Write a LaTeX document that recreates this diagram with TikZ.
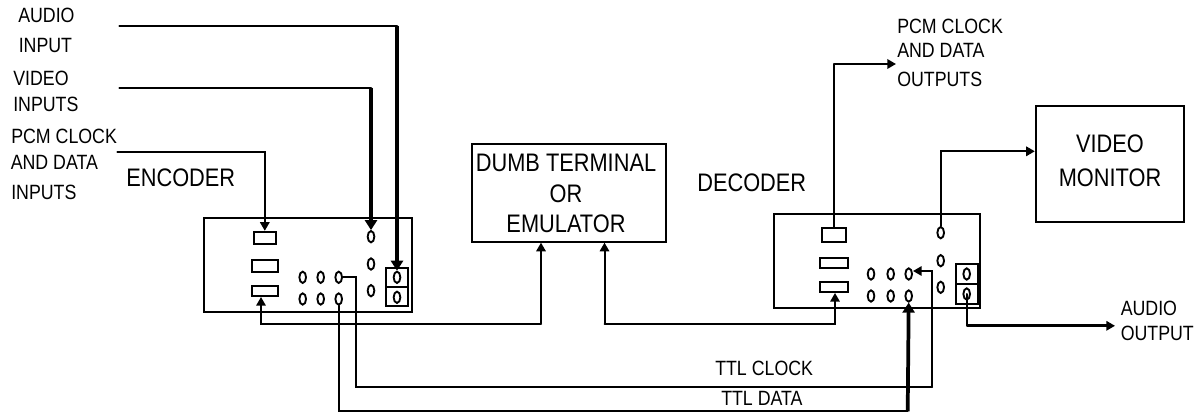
\documentclass[tikz,border=0pt]{standalone}
\usepackage{fontspec}
\setmainfont{Liberation Sans}[FakeStretch=0.86]
\usetikzlibrary{arrows.meta,shapes.geometric}
\tikzset{
  wire/.style={line width=1.5pt,line cap=round},
  heavy/.style={line width=2.8pt},
  tipped/.style={-{Triangle[length=6.5pt,width=7pt]}},
  bigtip/.style={-{Triangle[length=7.5pt,width=9pt]}},
  chassis/.style={draw,line width=1.5pt,inner sep=0pt},
  port/.style={ellipse,draw,line width=1.4pt,minimum width=5pt,minimum height=8.5pt,inner sep=0pt},
  lab/.style={inner sep=0pt,anchor=west,text height=11.1pt,text depth=0pt,font=\fontsize{15.5}{15.5}\selectfont},
  biglab/.style={inner sep=0pt,text height=13.6pt,text depth=0pt,font=\fontsize{19}{19}\selectfont},
}
\newcommand{\boxat}[6][]{\node[chassis,minimum width=#5*0.75pt,minimum height=#6*0.75pt,#1] (#2) at (#3,#4) {};}
\begin{document}
\begin{tikzpicture}[x=0.75pt,y=-0.75pt]
\useasboundingbox (0,0) rectangle (1202,413);
% main boxes
\boxat{enc}{308}{264.7}{208}{94}
\boxat{dec}{877}{261}{206}{93.7}
\boxat{term}{568.7}{192.8}{194}{97.7}
\boxat{mon}{1110}{164}{148.3}{115.7}
% encoder parts
\boxat{er1}{264.8}{238}{22.5}{12.3}
\boxat{er2}{265}{266}{26.6}{12}
\boxat{er3}{265}{291}{26.6}{10}
\boxat{ea1}{397.2}{277.5}{22.3}{19.6}
\boxat{ea2}{397.2}{296.7}{22.3}{18.7}
\foreach \n/\x/\y in {ep1/302.7/277.3,ep2/320.7/277.3,ep3/338.7/277.3,ep4/302.7/299,ep5/320.7/299,ep6/338.7/299,ev1/371/236.7,ev2/371/264,ev3/371/290.7,eo1/397/277.3,eo2/397/297.3}
  \node[port] (\n) at (\x,\y) {};
% decoder parts
\boxat{dr1}{833.8}{235}{24.3}{14}
\boxat{dr2}{834.2}{262.8}{28.3}{10.3}
\boxat{dr3}{834.2}{286.8}{28.3}{10.3}
\boxat{da1}{967.2}{274}{22.3}{20}
\boxat{da2}{967.2}{294}{22.3}{20}
\foreach \n/\x/\y in {dp1/871/274,dp2/890.7/274,dp3/908.7/274,dp4/871/296,dp5/890.7/296,dp6/908.7/296,dv1/940.7/232.7,dv2/940.7/260.7,dv3/940.7/287.3,do1/966.7/274,do2/966.7/294}
  \node[port] (\n) at (\x,\y) {};
% labels
\node[lab] (t1) at (18,15) {AUDIO};
\node[lab] (t2) at (18.5,45) {INPUT};
\node[lab] (t3) at (13,78) {VIDEO};
\node[lab] (t4) at (13,104) {INPUTS};
\node[lab] (t5) at (11,136) {PCM CLOCK};
\node[lab] (t6) at (10.5,162) {AND DATA};
\node[lab] (t7) at (11,192) {INPUTS};
\node[biglab,anchor=west] (t8) at (126,177) {ENCODER};
\node[biglab,anchor=west] (t9) at (697,182) {DECODER};
\node[biglab] (t10) at (566,162.7) {DUMB TERMINAL};
\node[biglab] (t11) at (566,193) {OR};
\node[biglab] (t12) at (566,223.5) {EMULATOR};
\node[biglab] (t13) at (1110,143) {VIDEO};
\node[biglab] (t14) at (1110,177) {MONITOR};
\node[lab] (t15) at (897,26) {PCM CLOCK};
\node[lab] (t16) at (897,50) {AND DATA};
\node[lab] (t17) at (897,79) {OUTPUTS};
\node[lab] (t18) at (1120.5,308) {AUDIO};
\node[lab] (t19) at (1120.5,333) {OUTPUT};
\node[lab] (t20) at (715,368) {TTL CLOCK};
\node[lab] (t21) at (721,398.5) {TTL DATA};
% free ends and corners
\coordinate (ain) at (119.3,25.7);
\coordinate (vin) at (119.3,87.7);
\coordinate (pin) at (117.3,152);
\coordinate (pout) at (896,64);
\coordinate (aout) at (1115,325.8);
\coordinate (busE) at (261,323.5);
\coordinate (busT) at (541,323.5);
\coordinate (busT2) at (604.5,323.5);
\coordinate (busD) at (835,323.5);
\coordinate (clkA) at (355.7,387);
\coordinate (clkB) at (932,387);
\coordinate (clkC) at (932,271);
\coordinate (datA) at (338.7,411.3);
\coordinate (datB) at (907.7,411.3);
% encoder inputs
\draw[wire] (ain) -- (ain -| eo1);
\draw[heavy,bigtip] (ain -| eo1) -- (eo1.north);
\draw[wire] (vin) -- (vin -| ev1);
\draw[heavy,bigtip] (vin -| ev1) -- (ev1.north);
\draw[wire,tipped] (pin) -| (er1.north);
% terminal links
\draw[wire,tipped] (busT) -- (busT |- term.south);
\draw[wire,tipped] (busT) -- (busE) -- (busE |- er3.south);
\draw[wire,tipped] (busT2) -- (busT2 |- term.south);
\draw[wire,tipped] (busT2) -- (busD) -- (busD |- dr3.south);
% TTL
\draw[wire] (ep3.east) -| (clkA) -- (clkB);
\draw[wire,tipped] (clkB) -- (clkC) -- (dp3.east |- clkC);
\draw[wire] (ep6.south) -- (datA) -- (datB);
\draw[heavy,bigtip] (datB) -- (dp6.south);
% decoder outputs
\draw[wire] (dr1.north) -- (dr1.north |- pout);
\draw[line width=2pt,tipped] (dr1.north |- pout) -- (pout);
\draw[wire,tipped] (dv1.north) |- (mon.west |- 0,151.3);
\draw[wire] (do2.center) -- (do2.center |- aout);
\draw[line width=2pt,tipped] (do2.center |- aout) -- (aout);
\end{tikzpicture}
\end{document}
